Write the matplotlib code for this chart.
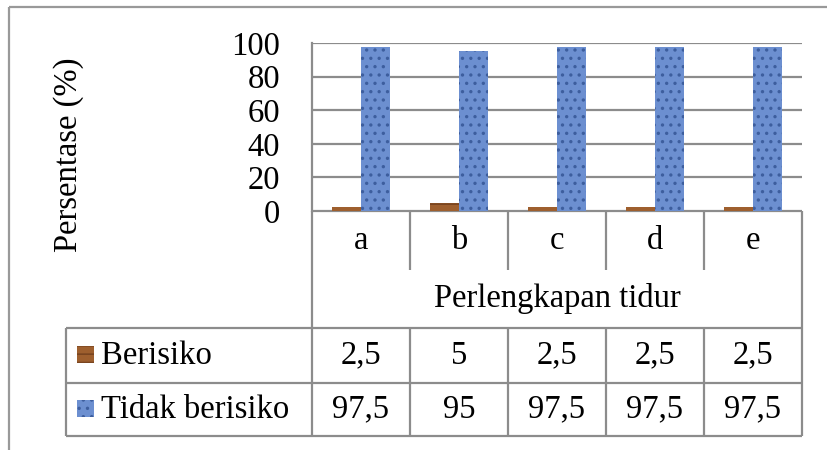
import matplotlib
matplotlib.use("Agg")
import matplotlib.pyplot as plt
from matplotlib.patches import Rectangle
from matplotlib import font_manager

# === DATA ===
categories = ['a', 'b', 'c', 'd', 'e']
berisiko = [2.5, 5, 2.5, 2.5, 2.5]
tidak_berisiko = [97.5, 95, 97.5, 97.5, 97.5]
series_names = ['Berisiko', 'Tidak berisiko']
y_ticks = [0, 20, 40, 60, 80, 100]
x_title = 'Perlengkapan tidur'
y_title = 'Persentase (%)'

BROWN = '#9E5F2E'
BROWN_DARK = '#7A4520'
BLUE = '#6C8FD0'
BLUE_DARK = '#3D5E9E'
GRID = '#8C8C8C'
FS = 23.5

print(font_manager.findfont('Liberation Serif'))
plt.rcParams['font.family'] = 'serif'
plt.rcParams['font.serif'] = ['Liberation Serif', 'Times New Roman', 'DejaVu Serif']
plt.rcParams['hatch.linewidth'] = 1.2

W, H = 828, 450
fig = plt.figure(figsize=(W / 100, H / 100), dpi=100)


def px_box(left, top, right, bottom):
    return [left / W, 1 - bottom / H, (right - left) / W, (bottom - top) / H]


# overlay in pixel coords for frame, labels and table lines
ov = fig.add_axes([0, 0, 1, 1])
ov.set_xlim(0, W)
ov.set_ylim(H, 0)
ov.axis('off')

# main plot area
PL, PR, PT, PB = 312, 802, 43, 211
ax = fig.add_axes(px_box(PL, PT, PR, PB))
ax.set_xlim(-0.5, len(categories) - 0.5)
ax.set_ylim(0, 100)
for s in ['top', 'right', 'bottom']:
    ax.spines[s].set_visible(False)
ax.spines['left'].set_color(GRID)
ax.spines['left'].set_linewidth(1.6)
ax.set_yticks(y_ticks)
ax.set_yticklabels([str(v) for v in y_ticks], fontsize=FS)
ax.tick_params(axis='y', length=0, pad=23)
ax.set_xticks([])
ax.yaxis.grid(True, color=GRID, linewidth=1.6)
ax.set_axisbelow(True)

x = list(range(len(categories)))
bw = 0.3
ax.bar([i - bw / 2 for i in x], berisiko, width=bw, color=BROWN,
       edgecolor=BROWN_DARK, linewidth=0, hatch='--', zorder=3)
ax.bar([i + bw / 2 for i in x], tidak_berisiko, width=bw, color=BLUE,
       edgecolor=BLUE_DARK, linewidth=0, hatch='..', zorder=3)

ov.text(69, 155, y_title, fontsize=FS, rotation=90, ha='center', va='center')

# outer frame (runs off the right and bottom edges)
ov.add_patch(Rectangle((9, 7), W, H, fill=False, edgecolor='#999999', linewidth=1.6))

# table geometry
col_w = (PR - PL) / len(categories)
cols = [PL + i * col_w for i in range(len(categories) + 1)]
ROW_CAT, ROW_TITLE, ROW1, ROW2 = 270, 328, 383, 436
TL = 66
lk = dict(color=GRID, linewidth=1.6, solid_capstyle='butt')

ov.plot([PL, PR], [PB, PB], **lk)
ov.plot([PL, PL], [PB, ROW2], **lk)
ov.plot([PR, PR], [PB, ROW2], **lk)
for cx in cols[1:-1]:
    ov.plot([cx, cx], [PB, ROW_CAT], **lk)
    ov.plot([cx, cx], [ROW_TITLE, ROW2], **lk)
for yy in [ROW_TITLE, ROW1, ROW2]:
    ov.plot([TL, PR], [yy, yy], **lk)
ov.plot([TL, TL], [ROW_TITLE, ROW2], **lk)

for i, c in enumerate(categories):
    cx = (cols[i] + cols[i + 1]) / 2
    ov.text(cx, (PB + ROW_CAT) / 2, c, fontsize=FS, ha='center', va='center')
ov.text((PL + PR) / 2, (ROW_CAT + ROW_TITLE) / 2, x_title, fontsize=FS,
        ha='center', va='center')


def fmt(v):
    return str(int(v)) if float(v).is_integer() else str(v).replace('.', ',')


rows = [(berisiko, BROWN, BROWN_DARK, '--', ROW_TITLE, ROW1),
        (tidak_berisiko, BLUE, BLUE_DARK, '..', ROW1, ROW2)]
for name, (vals, fc, ec, hatch, top, bot) in zip(series_names, rows):
    cy = (top + bot) / 2
    ov.add_patch(Rectangle((77, cy - 10), 17, 17, facecolor=fc, edgecolor=ec,
                           linewidth=0, hatch=hatch))
    ov.text(101, cy, name, fontsize=FS, ha='left', va='center')
    for i, v in enumerate(vals):
        cx = (cols[i] + cols[i + 1]) / 2
        ov.text(cx, cy, fmt(v), fontsize=FS, ha='center', va='center')

fig.savefig('out.png', dpi=100)
